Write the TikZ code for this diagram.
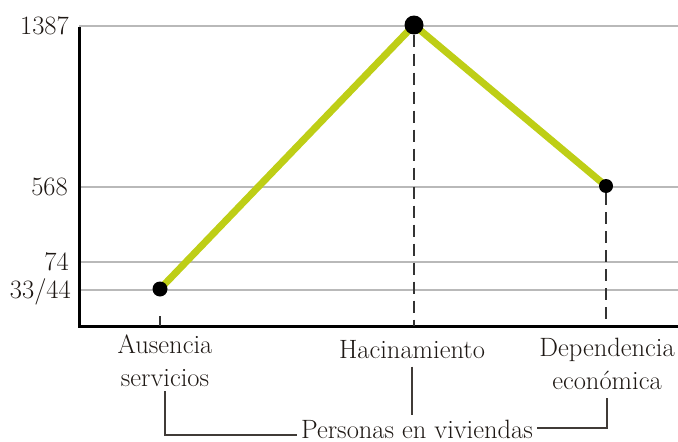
\documentclass[tikz,border=0pt]{standalone}
\usepackage{tikz}
\usetikzlibrary{positioning}
\usetikzlibrary{calc}
\usetikzlibrary{backgrounds}
\definecolor{limegreen}{RGB}{190,206,22}
\definecolor{inkbrown}{RGB}{30,24,20}
\definecolor{gridgray}{RGB}{185,185,185}
\tikzstyle{gridline} = [draw, gridgray, line width=1.6pt]
\tikzstyle{dropline} = [draw, black!80, line width=1.5pt, dash pattern=on 12pt off 7pt]
\tikzstyle{bracket} = [draw, inkbrown!85, line width=1.3pt]

\begin{document}
\begin{tikzpicture}[x=1pt, y=-1pt,
        every node/.style={font=\fontsize{26.5}{33}\selectfont, text=inkbrown, inner sep=0pt},
        dot/.style={circle, fill=black, minimum size=#1},
        trend/.style={draw, limegreen, line width=7pt},
        ylabel/.style={anchor=base east},
        category/.style={anchor=north, align=center}]
        \useasboundingbox (0,0) rectangle (678,442);
        \coordinate (base) at (0,326);
        %% Data points
        \node [dot=15pt] at (160,289) (aus pt) {};
        \node [dot=19pt] at (414,25) (hac pt) {};
        \node [dot=14pt] at (606,186) (dep pt) {};
        %% Grid and trend line
        \begin{scope}[on background layer]
            \foreach \y in {26,187,262,290}
                \path [gridline] (79,\y) -- (678,\y);
            \path [trend] (aus pt.center) -- (hac pt.center) -- (dep pt.center);
        \end{scope}
        %% Axes
        \draw [line width=3pt] (79,27) -- (79,326) -- (678,326);
        %% Values
        \node [ylabel] at (69,34) (v1387) {1387};
        \node [ylabel] at (68,195) (v568) {568};
        \node [ylabel] at (69,270) (v74) {74};
        \node [ylabel] at (71,298) (v3344) {33/44};
        %% Drops to the axis
        \path [draw, black!80, line width=1.5pt] ([yshift=-27pt]aus pt.center) -- (aus pt |- base);
        \path [dropline] (hac pt) -- (hac pt |- base);
        \path [dropline] (dep pt) -- (dep pt |- base);
        %% Categories
        \node [category] at (165,335) (aus) {Ausencia\\servicios};
        \node [category] at (412,340) (hac) {Hacinamiento};
        \node [category] at (607,338) (dep) {Dependencia\\económica};
        \node [anchor=base] at (417,438) (grp) {Personas en viviendas};
        %% Bracket
        \path [bracket] ([yshift=-4pt]aus.south) |- ([xshift=-4pt,yshift=-6pt]grp.west);
        \path [bracket] ([yshift=-8pt]hac.south) -- ([yshift=4pt]hac.south |- grp.north);
        \path [bracket] ([yshift=-8pt]dep.south) |- ([xshift=4pt,yshift=1pt]grp.east);
    \end{tikzpicture}
\end{document}
